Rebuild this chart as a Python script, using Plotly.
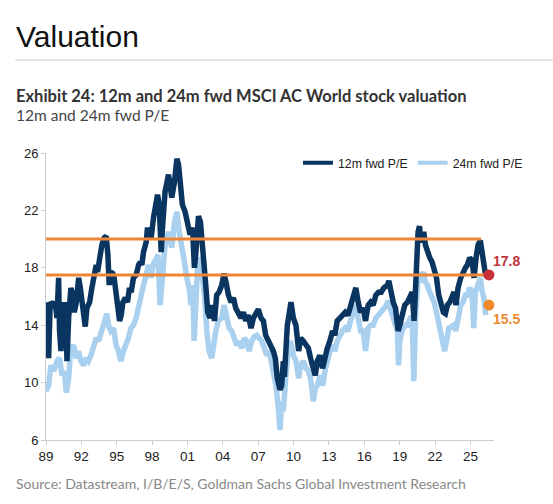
import plotly.graph_objects as go

# ---------------- data ----------------
years_12m = [1989.0, 1989.14, 1989.22, 1989.36, 1989.59, 1989.79, 1989.93, 1990.07, 1990.15, 1990.27,
             1990.44, 1990.55, 1990.72, 1990.78, 1990.92, 1991.11, 1991.28, 1991.40, 1991.57, 1991.77,
             1991.91, 1992.05, 1992.19, 1992.33, 1992.47, 1992.70, 1992.89, 1993.03, 1993.26, 1993.37,
             1993.54, 1993.74, 1993.94, 1994.11, 1994.25, 1994.36, 1994.50, 1994.67, 1994.78, 1994.95,
             1995.07, 1995.24, 1995.38, 1995.52, 1995.72, 1995.91, 1996.08, 1996.22, 1996.42, 1996.65,
             1996.85, 1996.99, 1997.13, 1997.27, 1997.50, 1997.61, 1997.78, 1997.92, 1998.12, 1998.29,
             1998.46, 1998.60, 1998.77, 1998.88, 1999.10, 1999.39, 1999.67, 1999.90, 2000.10, 2000.24,
             2000.38, 2000.57, 2000.80, 2001.03, 2001.22, 2001.42, 2001.59, 2001.70, 2001.93, 2002.10,
             2002.27, 2002.44, 2002.55, 2002.72, 2002.92, 2003.12, 2003.29, 2003.48, 2003.68, 2003.91,
             2004.10, 2004.27, 2004.47, 2004.70, 2004.90, 2005.09, 2005.32, 2005.54, 2005.74, 2005.94,
             2006.16, 2006.39, 2006.59, 2006.79, 2007.01, 2007.24, 2007.44, 2007.63, 2007.86, 2008.08,
             2008.28, 2008.45, 2008.62, 2008.85, 2008.99, 2009.13, 2009.22, 2009.47, 2009.64, 2009.78,
             2009.98, 2010.20, 2010.43, 2010.60, 2010.82, 2011.05, 2011.25, 2011.44, 2011.67, 2011.84,
             2012.01, 2012.23, 2012.46, 2012.66, 2012.86, 2013.08, 2013.31, 2013.50, 2013.70, 2013.93,
             2014.15, 2014.38, 2014.61, 2014.83, 2015.06, 2015.28, 2015.48, 2015.68, 2015.90, 2016.10,
             2016.33, 2016.53, 2016.75, 2016.98, 2017.20, 2017.43, 2017.66, 2017.97, 2018.08, 2018.25,
             2018.45, 2018.64, 2018.87, 2019.01, 2019.21, 2019.43, 2019.66, 2019.89, 2020.06, 2020.22,
             2020.34, 2020.45, 2020.56, 2020.68, 2020.79, 2020.93, 2021.04, 2021.18, 2021.35, 2021.55,
             2021.75, 2021.92, 2022.12, 2022.31, 2022.54, 2022.71, 2022.88, 2023.05, 2023.25, 2023.44,
             2023.61, 2023.78, 2023.95, 2024.18, 2024.37, 2024.57, 2024.74, 2024.94, 2025.14, 2025.31,
             2025.48, 2025.65, 2025.84, 2026.01, 2026.15, 2026.30]
pe_12m = [15.6, 14.5, 11.7, 15.6, 15.4, 15.6, 14.5, 17.3, 13.6, 12.2,
          14.9, 15.6, 13.6, 11.5, 14.5, 16.6, 16.1, 14.9, 15.6, 17.3,
          16.6, 15.6, 14.5, 13.9, 15.2, 15.6, 16.6, 17.3, 18.2, 17.7,
          18.9, 19.6, 20.1, 20.2, 18.9, 16.8, 17.7, 17.6, 17.3, 15.9,
          15.2, 14.3, 14.7, 15.6, 15.9, 15.6, 16.6, 16.3, 17.3, 17.5,
          18.2, 18.4, 18.2, 19.1, 19.8, 20.8, 20.3, 20.1, 21.5, 22.2,
          23.1, 22.4, 19.1, 20.8, 23.3, 24.5, 22.9, 24.0, 25.6, 25.2,
          23.8, 22.4, 21.9, 20.8, 20.3, 20.8, 18.0, 18.9, 21.6, 21.2,
          19.6, 18.9, 16.8, 14.9, 14.5, 15.4, 14.3, 16.1, 16.3, 16.8,
          17.6, 17.0, 16.1, 15.6, 15.9, 15.2, 14.9, 14.5, 14.9, 14.3,
          14.7, 13.8, 14.5, 14.9, 15.1, 14.5, 14.3, 13.3, 12.9, 12.6,
          12.2, 11.7, 10.3, 9.5, 9.8, 11.5, 10.4, 14.0, 14.9, 15.6,
          14.5, 14.0, 12.2, 13.1, 12.9, 12.6, 12.4, 11.7, 10.8, 10.5,
          11.5, 11.9, 11.0, 11.9, 12.4, 12.9, 13.6, 13.3, 14.3, 14.5,
          14.7, 14.9, 14.7, 15.4, 16.1, 16.6, 15.6, 14.9, 15.2, 14.3,
          15.4, 15.6, 15.4, 16.1, 16.3, 16.3, 16.6, 16.8, 17.1, 16.1,
          15.6, 15.2, 13.6, 14.0, 14.9, 15.4, 15.6, 16.1, 16.3, 14.3,
          16.8, 19.6, 20.5, 20.9, 19.8, 20.1, 20.5, 19.6, 19.1, 18.7,
          18.4, 18.0, 17.3, 16.1, 15.4, 14.9, 14.8, 15.4, 15.6, 16.1,
          16.3, 15.4, 16.6, 17.3, 17.7, 18.0, 18.2, 18.7, 18.5, 17.3,
          18.7, 19.6, 19.9, 18.9, 18.2, 17.4]

years_24m = [1989.0, 1989.22, 1989.42, 1989.65, 1989.93, 1990.15, 1990.35, 1990.55, 1990.72, 1990.92,
             1991.11, 1991.34, 1991.57, 1991.77, 1991.96, 1992.19, 1992.41, 1992.61, 1992.81, 1993.03,
             1993.26, 1993.46, 1993.74, 1993.94, 1994.16, 1994.30, 1994.50, 1994.73, 1994.95, 1995.15,
             1995.35, 1995.57, 1995.80, 1995.99, 1996.20, 1996.42, 1996.65, 1996.85, 1997.05, 1997.27,
             1997.50, 1997.70, 1997.89, 1998.12, 1998.34, 1998.50, 1998.68, 1998.88, 1999.10, 1999.39,
             1999.67, 1999.90, 2000.10, 2000.30, 2000.52, 2000.74, 2000.94, 2001.14, 2001.31, 2001.45,
             2001.56, 2001.70, 2001.87, 2002.07, 2002.27, 2002.44, 2002.64, 2002.83, 2003.06, 2003.20,
             2003.40, 2003.62, 2003.91, 2004.10, 2004.33, 2004.53, 2004.75, 2004.98, 2005.18, 2005.37,
             2005.60, 2005.83, 2006.02, 2006.22, 2006.45, 2006.67, 2006.87, 2007.07, 2007.29, 2007.52,
             2007.72, 2007.92, 2008.14, 2008.37, 2008.51, 2008.71, 2008.85, 2008.99, 2009.13, 2009.33,
             2009.55, 2009.75, 2009.98, 2010.20, 2010.43, 2010.60, 2010.82, 2011.05, 2011.25, 2011.44,
             2011.67, 2011.84, 2012.01, 2012.23, 2012.46, 2012.66, 2012.86, 2013.08, 2013.31, 2013.50,
             2013.70, 2013.93, 2014.15, 2014.38, 2014.61, 2014.83, 2015.06, 2015.28, 2015.48, 2015.68,
             2015.90, 2016.10, 2016.33, 2016.53, 2016.75, 2016.98, 2017.20, 2017.43, 2017.66, 2017.88,
             2018.02, 2018.25, 2018.45, 2018.64, 2018.81, 2018.90, 2019.01, 2019.21, 2019.43, 2019.66,
             2019.89, 2020.06, 2020.20, 2020.34, 2020.45, 2020.56, 2020.68, 2020.79, 2020.93, 2021.04,
             2021.18, 2021.35, 2021.55, 2021.75, 2021.92, 2022.12, 2022.31, 2022.54, 2022.71, 2022.82,
             2022.96, 2023.16, 2023.39, 2023.58, 2023.75, 2023.95, 2024.18, 2024.37, 2024.57, 2024.74,
             2024.94, 2025.14, 2025.28, 2025.42, 2025.65, 2025.84, 2026.01, 2026.15, 2026.30]
pe_24m = [9.4, 9.8, 11.2, 10.8, 11.5, 11.7, 10.5, 10.8, 9.3, 10.3,
          12.4, 12.6, 11.7, 12.2, 11.5, 11.2, 11.7, 11.5, 11.9, 12.6,
          13.1, 12.9, 13.8, 14.3, 14.8, 14.0, 13.6, 13.8, 12.6, 12.2,
          11.5, 12.2, 12.6, 13.1, 13.8, 14.0, 14.5, 15.4, 15.9, 16.8,
          17.5, 18.2, 17.3, 18.3, 18.6, 18.9, 15.4, 17.7, 19.6, 20.5,
          19.4, 21.2, 21.9, 20.5, 19.6, 18.4, 17.3, 16.6, 15.4, 16.8,
          12.9, 16.3, 18.2, 18.7, 17.3, 16.1, 13.6, 12.2, 11.7, 12.6,
          13.6, 14.3, 14.5, 15.4, 14.3, 13.8, 13.6, 13.1, 12.6, 12.9,
          12.4, 13.1, 12.9, 12.2, 12.9, 13.2, 13.3, 13.1, 12.9, 12.4,
          11.9, 12.2, 11.2, 10.5, 9.8, 8.2, 6.7, 8.7, 8.0, 10.3,
          12.2, 12.9, 11.9, 11.5, 10.3, 11.2, 11.5, 11.0, 10.8, 10.3,
          8.7, 9.6, 9.8, 10.5, 9.8, 10.8, 11.5, 12.2, 12.6, 12.2,
          12.9, 13.3, 13.6, 13.8, 13.6, 14.3, 14.9, 15.4, 14.5, 13.6,
          13.6, 12.2, 13.8, 14.0, 14.0, 14.5, 14.7, 14.9, 15.2, 15.4,
          15.7, 14.9, 14.5, 14.0, 13.6, 11.2, 12.9, 13.6, 14.0, 14.0,
          14.5, 14.5, 10.1, 14.5, 16.6, 17.3, 17.7, 17.0, 17.5, 17.7,
          17.0, 16.8, 16.3, 15.9, 15.6, 14.9, 14.0, 13.3, 12.6, 12.2,
          13.1, 13.8, 13.9, 14.0, 13.6, 14.5, 15.4, 15.6, 16.1, 16.1,
          16.6, 16.3, 13.8, 16.3, 17.0, 17.3, 16.3, 15.9, 14.7]

# reference levels (orange lines) and their right ends
ref_levels = [20.0, 17.5]
ref_start = [1989.0, 1989.0]
ref_end = [2025.9, 2026.5]

# latest-value markers
latest_x = [2026.57, 2026.57]
latest_y = [17.5, 15.4]
latest_labels = ["17.8", "15.5"]

tick_years = [1989, 1992, 1995, 1998, 2001, 2004, 2007, 2010, 2013, 2016, 2019, 2022, 2025]
tick_text = ["89", "92", "95", "98", "01", "04", "07", "10", "13", "16", "19", "22", "25"]
y_ticks = [6, 10, 14, 18, 22, 26]

# ---------------- figure ----------------
W, H = 553, 504
L, R, T, B = 45.7, 58.7, 153.3, 64.0
PW, PH = W - L - R, H - T - B

def px(x):
    return (x - L) / PW

def py(y):
    return (H - B - y) / PH

DARK = "#0b3561"
LIGHT = "#a9d0ef"
ORANGE = "#ef8636"

fig = go.Figure()
fig.add_trace(go.Scatter(x=years_24m, y=pe_24m, mode="lines", name="24m fwd P/E",
                         line=dict(color=LIGHT, width=5.5), showlegend=False))
fig.add_trace(go.Scatter(x=years_12m, y=pe_12m, mode="lines", name="12m fwd P/E",
                         line=dict(color=DARK, width=5.5), showlegend=False))
# legend-only entries (order as in reference)
fig.add_trace(go.Scatter(x=[None], y=[None], mode="lines", name="12m fwd P/E",
                         line=dict(color=DARK, width=4)))
fig.add_trace(go.Scatter(x=[None], y=[None], mode="lines", name="24m fwd P/E",
                         line=dict(color=LIGHT, width=4)))

for lv, s, e in zip(ref_levels, ref_start, ref_end):
    fig.add_trace(go.Scatter(x=[s, e], y=[lv, lv], mode="lines", showlegend=False,
                             line=dict(color=ORANGE, width=3), hoverinfo="skip"))

fig.add_trace(go.Scatter(x=latest_x, y=latest_y, mode="markers", showlegend=False,
                         marker=dict(size=11, color=["#c8313b", "#f08a2a"]), cliponaxis=False))

label_colors = ["#c0343c", "#ec8a33"]
for xv, yv, t, c, dy in zip(latest_x, latest_y, latest_labels, label_colors, [-1, 1]):
    fig.add_annotation(x=xv, y=yv, text="<b>%s</b>" % t, showarrow=False, xref="x", yref="y",
                       xanchor="left", yanchor="middle", xshift=2, yshift=-dy * 14,
                       font=dict(family="Liberation Sans, Arial", size=14, color=c))

# headings
fig.add_annotation(x=px(14), y=py(18), xref="paper", yref="paper", xanchor="left", yanchor="top",
                   text="Valuation", showarrow=False,
                   font=dict(family="Liberation Sans, Arial", size=30, color="#111"))
fig.add_shape(type="line", xref="paper", yref="paper", x0=px(15), x1=px(553), y0=py(60.5), y1=py(60.5),
              line=dict(color="#c8c8c8", width=1))
fig.add_annotation(x=px(14), y=py(84), xref="paper", yref="paper", xanchor="left", yanchor="top",
                   text="<b>Exhibit 24: 12m and 24m fwd MSCI AC World stock valuation</b>", showarrow=False,
                   font=dict(family="Lato", size=16.5, color="#333"))
fig.add_annotation(x=px(14), y=py(104), xref="paper", yref="paper", xanchor="left", yanchor="top",
                   text="12m and 24m fwd P/E", showarrow=False,
                   font=dict(family="Lato", size=15.5, color="#444"))
fig.add_annotation(x=px(14), y=py(473), xref="paper", yref="paper", xanchor="left", yanchor="top",
                   text="Source: Datastream, I/B/E/S, Goldman Sachs Global Investment Research",
                   showarrow=False, font=dict(family="Lato", size=14, color="#888"))

fig.update_layout(
    width=W, height=H,
    margin=dict(l=L, r=R, t=T, b=B, pad=0),
    paper_bgcolor="white", plot_bgcolor="white",
    showlegend=True,
    legend=dict(orientation="h", x=px(298), y=py(163), xanchor="left", yanchor="middle",
                font=dict(family="Liberation Sans, Arial", size=12.3, color="#222"),
                bgcolor="rgba(0,0,0,0)", itemwidth=30, tracegroupgap=0),
    font=dict(family="Liberation Sans, Arial", color="#222"),
)
fig.update_xaxes(range=[1989, 2027], tickmode="array", tickvals=tick_years, ticktext=tick_text,
                 showgrid=False, zeroline=False, showline=True, linecolor="#cccccc", linewidth=1,
                 ticks="outside", ticklen=4, tickcolor="#cccccc", tickfont=dict(size=13.5, color="#222"))
fig.update_yaxes(range=[6, 26], tickmode="array", tickvals=y_ticks,
                 showgrid=False, zeroline=False, showline=True, linecolor="#cccccc", linewidth=1,
                 ticks="outside", ticklen=4, tickcolor="#cccccc", tickfont=dict(size=13, color="#222"))

fig.write_html("out.html")
